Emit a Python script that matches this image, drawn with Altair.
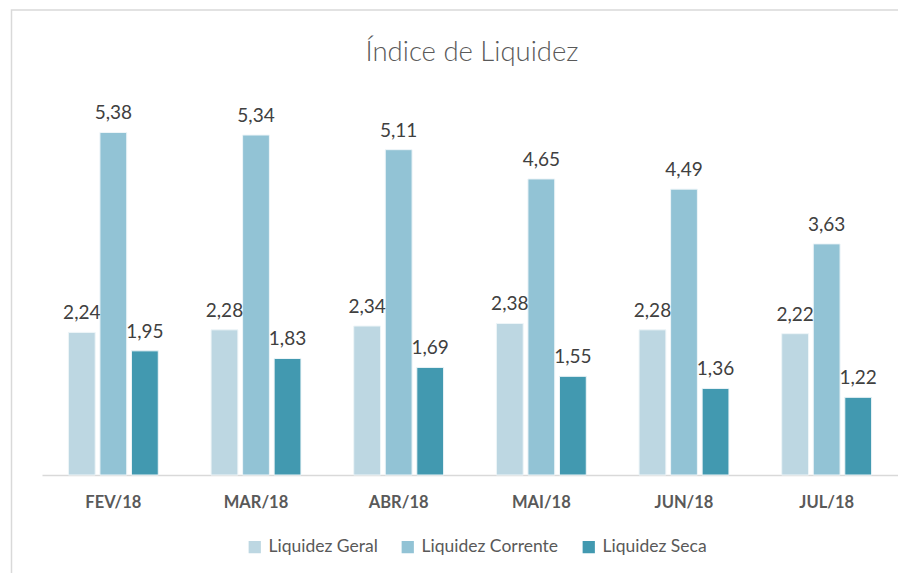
import altair as alt
import pandas as pd

months = ["FEV/18", "MAR/18", "ABR/18", "MAI/18", "JUN/18", "JUL/18"]
series = ["Liquidez Geral", "Liquidez Corrente", "Liquidez Seca"]
geral = [2.24, 2.28, 2.34, 2.38, 2.28, 2.22]
corrente = [5.38, 5.34, 5.11, 4.65, 4.49, 3.63]
seca = [1.95, 1.83, 1.69, 1.55, 1.36, 1.22]
colors = ["#BDD7E2", "#92C3D5", "#4299B0"]
title_text = "Índice de Liquidez"

rows = []
for name, vals in zip(series, [geral, corrente, seca]):
    for m, v in zip(months, vals):
        rows.append({"mes": m, "serie": name, "valor": v,
                     "rotulo": f"{v:.2f}".replace(".", ",")})
df = pd.DataFrame(rows)

FONT = "Lato"

x = alt.X("mes:N", sort=months, title=None,
          scale=alt.Scale(paddingInner=0.37, paddingOuter=0.185),
          axis=alt.Axis(labelAngle=0, labelFont=FONT, labelFontSize=16.5,
                        labelFontWeight="bold", labelColor="#595959",
                        domainColor="#D9D9D9", domainWidth=1.5, ticks=False,
                        labelPadding=19))
xo = alt.XOffset("serie:N", sort=series, scale=alt.Scale(paddingInner=0.15))
y = alt.Y("valor:Q", scale=alt.Scale(domain=[0, 6]), axis=None)

bars = alt.Chart(df).mark_bar(stroke="#EEF5F8", strokeWidth=1).encode(
    x=x, xOffset=xo, y=y,
    color=alt.Color("serie:N", sort=series,
                    scale=alt.Scale(domain=series, range=colors),
                    legend=alt.Legend(title=None, orient="none", direction="horizontal",
                                      legendX=204, legendY=445,
                                      symbolType="square", symbolSize=150,
                                      symbolStrokeWidth=0,
                                      labelFont=FONT, labelFontSize=17.5,
                                      labelColor="#595959", columnPadding=21,
                                      labelOffset=5)),
)

labels = alt.Chart(df).mark_text(baseline="bottom", dy=-9, font=FONT,
                                 fontSize=19, color="#404040").encode(
    x=x, xOffset=xo, y=y, text="rotulo:N")

frame_df = pd.DataFrame({"k": [0]})
frame = alt.Chart(frame_df).mark_rect(fill=None, stroke="#D9D9D9", strokeWidth=1.5).encode(
    x=alt.value(-30.5), x2=alt.value(900), y=alt.value(-83), y2=alt.value(600))

title_df = pd.DataFrame({"t": [title_text]})
title = alt.Chart(title_df).mark_text(font=FONT, fontSize=27.5, color="#595959",
                                      fontWeight=300,
                                      baseline="alphabetic", align="center").encode(
    x=alt.value(430), y=alt.value(-32), text="t:N")

chart = alt.layer(frame, title, bars, labels).properties(
    width=856, height=382,
    autosize=alt.AutoSizeParams(type="none"),
    padding={"left": 34, "top": 85, "right": 0, "bottom": 98},
).configure_view(stroke=None).configure_axis(grid=False)

chart.save("out.html", embed_options={"renderer": "svg", "actions": False})
